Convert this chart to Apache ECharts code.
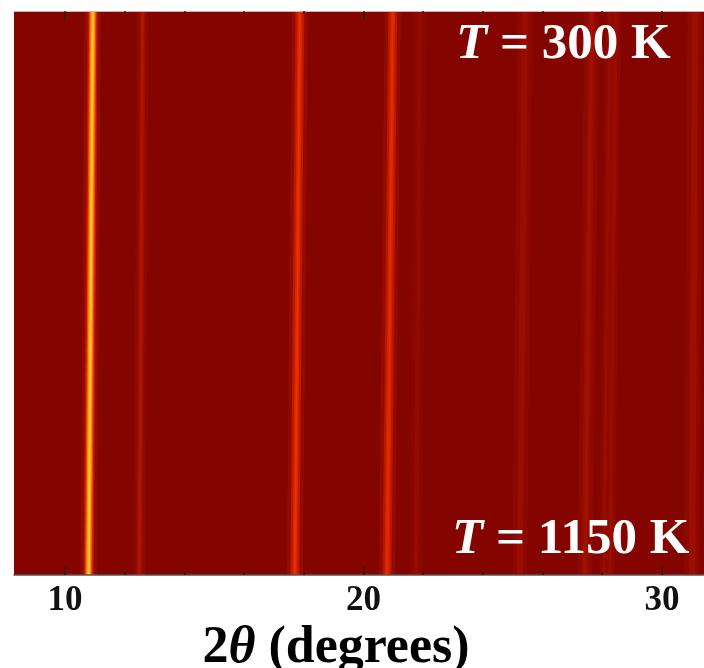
<!DOCTYPE html>
<html>
<head>
<meta charset="utf-8">
<style>html,body{margin:0;padding:0;background:#fff}#c{width:704px;height:668px}</style>
<script src="https://cdn.jsdelivr.net/npm/echarts@6/dist/echarts.min.js"></script>
</head>
<body>
<div id="c"></div>
<script>
// 2-theta left edge of each intensity band, read at the top (300 K) and bottom (1150 K) of the map
const edgesAt300 = [8.29,
  10.66,10.76,10.81,10.85,10.89,10.97,11.01,11.05,11.10,11.20,
  12.40,12.50,12.55,12.65,12.70,12.80,
  17.60,17.72,17.79,17.84,17.90,17.95,18.02,18.14,
  20.71,20.83,20.90,20.95,21.01,21.06,21.13,21.25,
  21.69,21.81,21.97,22.09,
  25.16,25.31,25.51,25.66,
  27.40,27.53,27.60,27.70,27.77,27.90,
  28.12,28.20,28.30,28.40,28.52,28.62,
  30.85,31.00,31.22,31.35];
const edgesAt1150 = [8.29,
  10.52,10.62,10.67,10.71,10.75,10.83,10.87,10.91,10.96,11.06,
  12.29,12.39,12.44,12.54,12.59,12.69,
  17.43,17.55,17.62,17.67,17.73,17.78,17.85,17.97,
  20.52,20.64,20.71,20.76,20.82,20.87,20.94,21.06,
  21.56,21.68,21.84,21.96,
  24.99,25.14,25.34,25.49,
  27.17,27.30,27.37,27.47,27.54,27.67,
  27.92,28.00,28.10,28.20,28.32,28.42,
  30.75,30.90,31.12,31.25];
const bandLevels = [0,
  .05,.18,.45,.7,.95,.7,.45,.18,.05, 0,
  .03,.08,.14,.08,.03, 0,
  .05,.18,.3,.37,.3,.18,.05, 0,
  .05,.17,.28,.33,.28,.17,.05, 0,
  .02,.05,.02, 0,
  .03,.07,.03, 0,
  .03,.07,.1,.07,.03, 0,
  .03,.07,.04,.07,.03, 0,
  .03,.08,.03, 0];
const temperatureRange = [300, 1150];
const thetaRange = [8.29, 31.41];
const majorTicks = [10, 20, 30];
const minorTicks = [12, 14, 16, 18, 22, 24, 26, 28];
const heatColors = ['#840500', '#e52a00', '#ff8000', '#ffd040'];
const topLabel = '300 K';
const bottomLabel = '1150 K';

const serif = '"Liberation Serif", "Times New Roman", serif';
const bands = bandLevels.map((lv, i) => [edgesAt300[i], edgesAt1150[i], lv]);

function baseAxis(position, ticks, length, extra) {
  return Object.assign({
    type: 'value', position, min: thetaRange[0], max: thetaRange[1], z: 5,
    splitLine: { show: false },
    axisLine: { show: false },
    axisTick: { show: true, inside: true, length, customValues: ticks, lineStyle: { color: '#3a1408', width: 1.5 } },
    axisLabel: { show: false }
  }, extra || {});
}
function annotation(text, left, top) {
  const base = { fontFamily: serif, fontWeight: 'bold', fontSize: 51, color: '#fff' };
  return { text: '{i|T}{n| = ' + text + '}', left, top, z: 6,
    textStyle: { rich: { i: Object.assign({ fontStyle: 'italic' }, base), n: base } } };
}

const chart = echarts.init(document.getElementById('c'), null, { renderer: 'canvas' });
chart.setOption({
  animation: false,
  backgroundColor: '#fff',
  grid: { left: 14, right: 0, top: 11, bottom: 93, containLabel: false, outerBoundsMode: 'none' },
  title: [annotation(topLabel, 451, 14), annotation(bottomLabel, 447, 509)],
  xAxis: [
    baseAxis('bottom', majorTicks, 9, {
      axisLine: { show: true, lineStyle: { color: '#555', width: 1.5 } },
      axisLabel: { show: true, customValues: majorTicks, margin: 8, fontFamily: serif, fontWeight: 'bold', fontSize: 35, color: '#111' },
      name: '{a|2}{b|θ}{a| (degrees)}', nameLocation: 'middle', nameGap: 47,
      nameTextStyle: { padding: [0, 46, 0, 0], rich: {
        a: { fontFamily: serif, fontWeight: 'bold', fontSize: 52, color: '#000' },
        b: { fontFamily: serif, fontWeight: 'bold', fontStyle: 'italic', fontSize: 52, color: '#000' } } }
    }),
    baseAxis('bottom', minorTicks, 3),
    baseAxis('top', majorTicks, 9, { axisLine: { show: true, lineStyle: { color: '#d9b0a8', width: 1 } } }),
    baseAxis('top', minorTicks, 3)
  ],
  yAxis: { type: 'value', inverse: true, min: temperatureRange[0], max: temperatureRange[1], show: false },
  visualMap: { show: false, type: 'continuous', seriesIndex: 0, dimension: 2, min: 0, max: 1, inRange: { color: heatColors } },
  series: [{
    type: 'custom',
    silent: true,
    clip: true,
    xAxisIndex: 0, yAxisIndex: 0,
    z: 1,
    data: bands,
    encode: { x: [0, 1] },
    renderItem(params, api) {
      const [t0, t1] = temperatureRange;
      const pts = [
        api.coord([api.value(0), t0]),
        api.coord([thetaRange[1], t0]),
        api.coord([thetaRange[1], t1]),
        api.coord([api.value(1), t1])
      ];
      return { type: 'polygon', shape: { points: pts }, style: { fill: api.visual('color') } };
    }
  }]
});
</script>
</body>
</html>
